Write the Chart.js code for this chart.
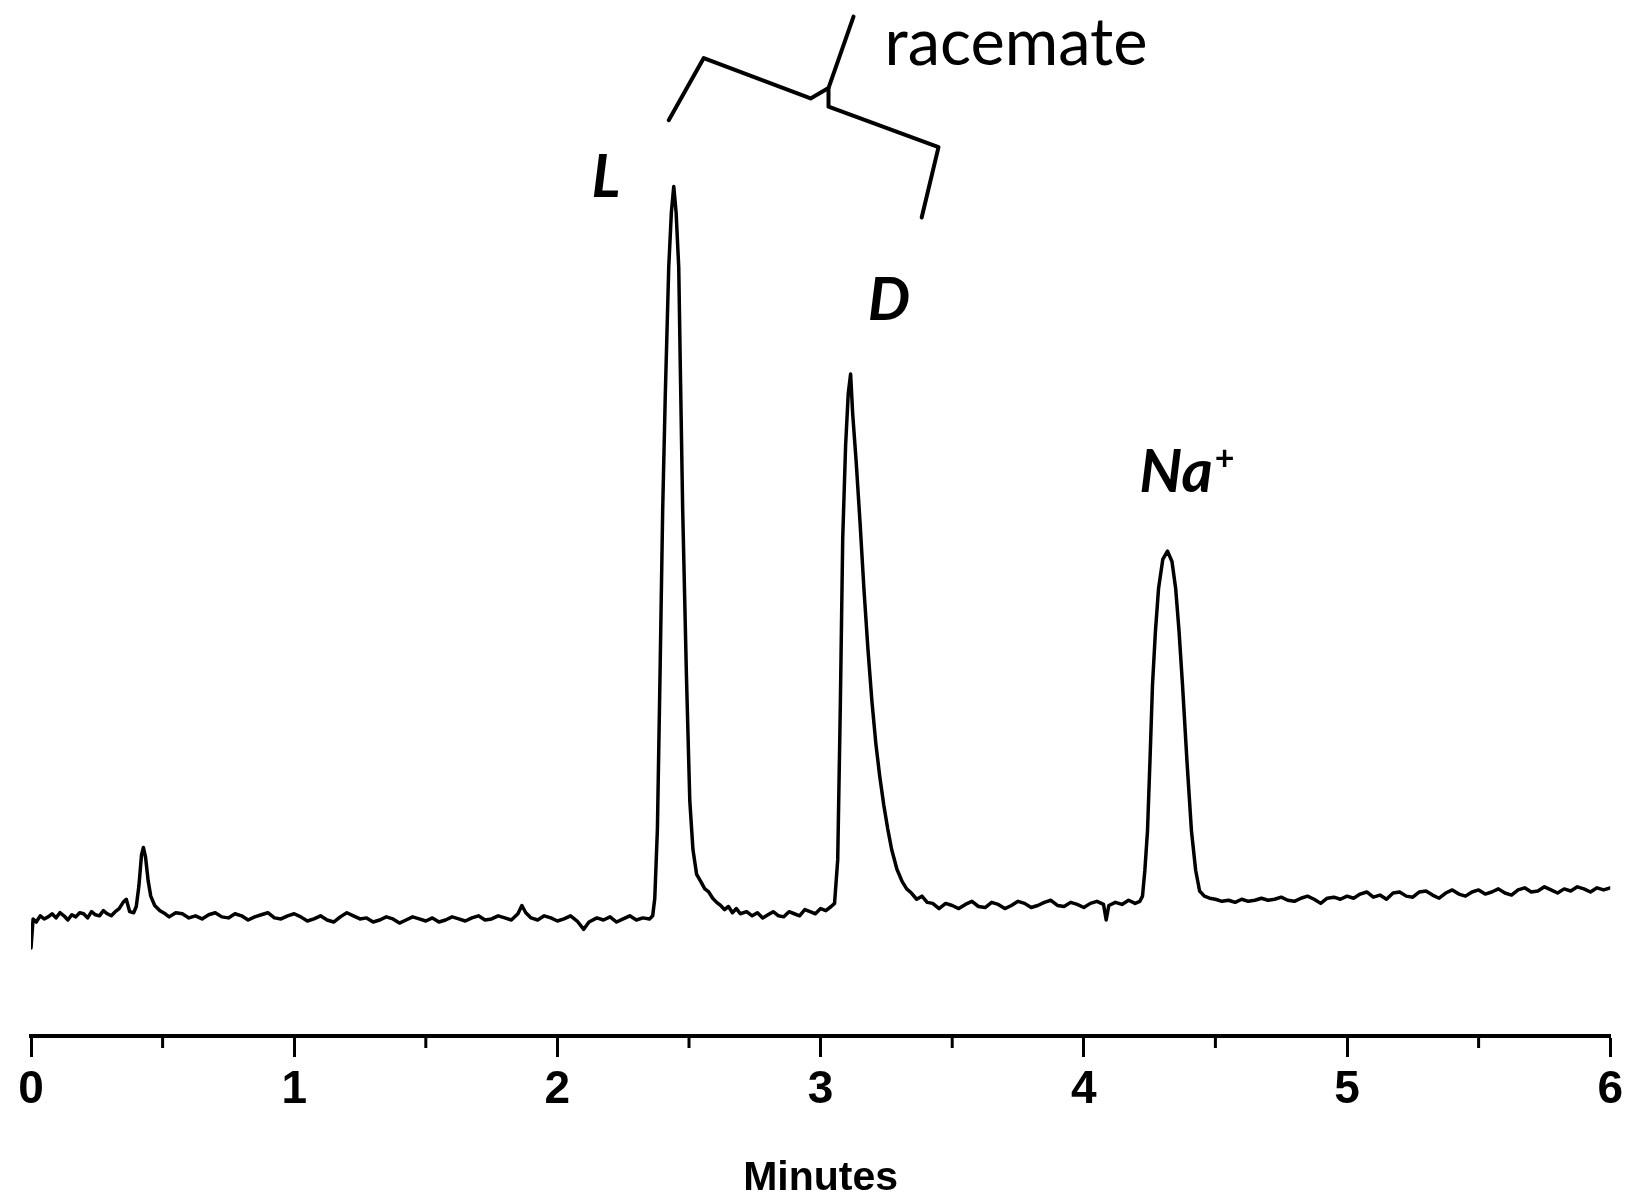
<!DOCTYPE html>
<html><head><meta charset="utf-8">
<script src="https://cdn.jsdelivr.net/npm/chart.js@4.4.1/dist/chart.umd.min.js"></script>
<style>html,body{margin:0;padding:0;background:#fff;}</style>
</head><body>
<canvas id="c" width="1629" height="1203"></canvas>
<script>
// ---- data (minutes, detector signal in arbitrary units) ----
const times = [
0.000,0.008,
0.020,0.035,0.050,0.065,0.080,0.095,0.110,0.125,0.140,0.155,0.170,0.185,0.200,0.215,0.230,0.245,0.260,0.275,0.290,0.305,0.320,0.335,
0.350,0.362,0.375,0.390,
0.400,0.410,0.420,0.427,0.435,0.445,0.455,0.470,0.490,0.510,
0.525,0.550,0.575,0.600,0.625,0.650,0.675,0.700,0.725,0.750,0.775,0.800,0.825,0.850,0.875,0.900,0.925,0.950,0.975,1.000,
1.025,1.050,1.075,1.100,1.125,1.150,1.175,1.200,1.225,1.250,1.275,1.300,1.325,1.350,1.375,1.400,1.425,1.450,1.475,1.500,
1.525,1.550,1.575,1.600,1.625,1.650,1.675,1.700,1.725,1.750,1.775,1.800,1.825,1.850,1.865,1.880,1.900,1.925,1.950,1.975,2.000,
2.025,2.050,2.075,2.100,2.120,2.150,2.175,2.200,2.225,2.250,2.275,2.300,2.325,2.350,2.362,
2.370,2.380,2.390,2.400,2.410,2.423,2.433,2.442,2.451,2.461,2.468,2.476,2.490,2.503,2.515,2.529,2.545,2.560,2.575,2.590,2.605,2.620,2.635,2.650,2.665,2.680,2.695,2.719,
2.740,2.760,2.780,2.800,2.820,2.840,2.860,2.880,2.900,2.920,2.940,2.960,2.980,3.000,3.020,3.040,3.053,
3.065,3.075,3.084,3.095,3.105,3.114,3.122,
3.135,3.150,3.165,3.180,3.195,3.210,3.225,3.240,3.255,3.270,3.290,3.310,3.327,3.345,3.365,3.385,3.405,3.426,
3.450,3.475,3.500,3.525,3.550,3.575,3.600,3.625,3.650,3.675,3.700,3.725,3.750,3.775,3.800,3.825,3.850,3.875,3.900,3.925,3.950,3.975,4.000,4.025,4.050,4.075,
4.085,4.095,4.120,4.145,4.170,4.195,4.213,
4.223,4.232,4.242,4.252,4.261,4.272,4.284,4.300,4.318,4.335,4.349,4.362,4.375,4.392,4.409,4.425,4.440,4.458,4.478,
4.500,4.525,4.550,4.575,4.600,4.625,4.650,4.675,4.700,4.725,4.750,4.775,4.800,4.825,4.850,4.875,4.900,4.925,4.950,4.975,
5.000,5.025,5.050,5.075,5.100,5.125,5.150,5.175,5.200,5.225,5.250,5.275,5.300,5.325,5.350,5.375,5.400,5.425,5.450,5.475,
5.500,5.525,5.550,5.575,5.600,5.625,5.650,5.675,5.700,5.725,5.750,5.775,5.800,5.825,5.850,5.875,5.900,5.925,5.950,5.975,6.000
];
const signal = [
8.5,11.3,
11.0,11.6,11.3,11.5,11.8,11.4,11.9,11.6,11.2,11.7,11.5,11.9,11.8,11.4,12.0,11.7,11.6,12.1,11.8,11.6,12.0,12.3,
12.9,13.2,12.0,11.9,
12.5,14.5,17.5,18.2,17.3,15.0,13.5,12.6,12.1,11.8,
11.5,11.9,11.8,11.4,11.6,11.3,11.7,11.9,11.5,11.4,11.8,11.6,11.2,11.5,11.7,11.9,11.4,11.3,11.6,11.8,
11.5,11.1,11.3,11.6,11.2,11.0,11.5,11.9,11.6,11.3,11.4,11.0,11.2,11.5,11.3,10.9,11.2,11.5,11.3,11.1,
11.4,11.0,11.2,11.5,11.3,11.1,11.4,11.6,11.2,11.3,11.6,11.4,11.2,11.8,12.6,11.9,11.4,11.2,11.6,11.4,11.1,
11.3,11.6,11.1,10.3,11.0,11.4,11.2,11.5,11.0,11.3,11.6,11.2,11.4,11.3,11.6,
13.3,20.0,35.0,50.8,62.0,74.2,79.5,82.0,79.5,74.2,63.0,50.8,35.0,22.7,18.0,15.6,14.9,14.2,13.9,13.3,12.9,12.6,12.2,12.5,11.9,12.3,11.8,12.0,
11.6,11.9,11.4,11.7,12.0,11.6,11.5,12.0,11.8,11.6,12.2,12.0,11.8,12.3,12.1,12.5,12.8,
17.0,32.0,48.0,57.0,62.0,63.9,60.0,
55.5,49.5,43.0,37.3,32.3,28.2,25.0,22.3,20.0,18.0,16.1,14.9,14.2,13.8,13.2,13.5,12.9,12.8,
12.3,12.8,12.6,12.3,12.7,13.0,12.5,12.4,12.9,12.7,12.3,12.6,13.0,12.8,12.4,12.6,12.9,13.1,12.6,12.5,12.9,12.7,12.4,12.8,13.0,12.7,
11.2,12.6,12.9,12.7,13.1,12.8,13.0,
13.5,16.0,19.8,27.0,33.9,39.0,43.2,46.0,46.8,45.8,43.2,39.0,33.9,26.5,19.8,16.0,14.0,13.5,13.3,
13.2,13.0,13.1,12.9,13.2,13.0,13.1,13.3,13.1,13.2,13.4,13.1,13.0,13.3,13.5,13.2,12.8,13.3,13.4,13.2,
13.5,13.3,13.7,13.9,13.4,13.6,13.2,13.8,13.9,13.5,13.4,13.9,14.0,13.6,13.3,13.8,14.1,13.7,13.5,13.9,
14.1,13.7,13.9,14.2,13.8,13.6,14.1,14.3,13.9,14.0,14.4,14.1,13.8,14.2,14.0,14.4,14.2,13.9,14.3,14.1,14.3
];
const majorTicks = [0, 1, 2, 3, 4, 5, 6];
const minorTicks = [0.5, 1.5, 2.5, 3.5, 4.5, 5.5];
const axisTitle = 'Minutes';
const peakNames = ['L', 'D', 'Na'];
const groupName = 'racemate';

// ---- annotation placement (data coordinates) ----
const peakNamePos = [[2.130, 81.0], [3.179, 69.1], [4.211, 52.5]];
const groupNamePos = [3.243, 93.7];
const braceLeft = [[2.423, 88.4], [2.556, 94.4], [2.962, 90.5], [3.030, 91.5], [3.125, 98.4]];
const braceRight = [[3.030, 91.5], [3.030, 89.7], [3.448, 85.8], [3.384, 79.0]];

const points = times.map((t, i) => ({x: t, y: signal[i]}));

const annotPlugin = {
  id: 'annot',
  afterDraw(chart) {
    const {ctx, scales: {x, y}} = chart;
    ctx.save();
    ctx.strokeStyle = '#000';
    ctx.fillStyle = '#000';
    // minor ticks
    ctx.lineWidth = 3;
    minorTicks.forEach(t => {
      const px = x.getPixelForValue(t);
      ctx.beginPath();
      ctx.moveTo(px, x.top);
      ctx.lineTo(px, x.top + 12);
      ctx.stroke();
    });
    // brace
    ctx.lineWidth = 4;
    ctx.lineJoin = 'round';
    ctx.lineCap = 'round';
    [braceLeft, braceRight].forEach(path => {
      ctx.beginPath();
      path.forEach(([t, v], i) => {
        const px = x.getPixelForValue(t), py = y.getPixelForValue(v);
        if (i === 0) ctx.moveTo(px, py); else ctx.lineTo(px, py);
      });
      ctx.stroke();
    });
    // labels
    ctx.textBaseline = 'alphabetic';
    ctx.textAlign = 'left';
    peakNames.forEach((name, i) => {
      const [t, v] = peakNamePos[i];
      const px = x.getPixelForValue(t), py = y.getPixelForValue(v);
      ctx.font = 'bold italic 60px Lato';
      ctx.fillText(name, px, py);
      if (name === 'Na') {
        const w = ctx.measureText(name).width;
        ctx.font = 'bold 34px Lato';
        ctx.fillText('+', px + w + 2, py - 22);
      }
    });
    ctx.font = '65px Lato';
    ctx.fillText(groupName, x.getPixelForValue(groupNamePos[0]), y.getPixelForValue(groupNamePos[1]));
    ctx.restore();
  }
};

new Chart(document.getElementById('c'), {
  type: 'line',
  data: {
    datasets: [{
      data: points,
      borderColor: '#000',
      borderWidth: 3.5,
      pointRadius: 0,
      tension: 0,
      borderJoinStyle: 'round',
      borderCapStyle: 'round',
      fill: false
    }]
  },
  options: {
    responsive: false,
    animation: false,
    events: [],
    layout: {padding: {left: 31, right: 18, top: 0, bottom: 0}},
    plugins: {legend: {display: false}, tooltip: {enabled: false}, title: {display: false}},
    scales: {
      x: {
        type: 'linear',
        min: 0, max: 6,
        afterFit(scale) { scale.height = 167; },
        afterBuildTicks(scale) { scale.ticks = majorTicks.map(v => ({value: v})); },
        border: {display: true, color: '#000', width: 4},
        grid: {display: true, drawOnChartArea: false, drawTicks: true, tickLength: 21, tickWidth: 3, tickColor: '#000'},
        ticks: {
          color: '#000', padding: 6, maxRotation: 0, autoSkip: false,
          font: {family: "'Liberation Sans Narrow', 'Liberation Sans', Arial", weight: 'bold', size: 46}
        },
        title: {
          display: true, text: axisTitle, color: '#000',
          font: {family: "'Liberation Sans', Arial", weight: 'bold', size: 41},
          padding: {top: 0, bottom: 0}
        }
      },
      y: {type: 'linear', min: 0, max: 100, display: false}
    }
  },
  plugins: [annotPlugin]
});
</script>
</body></html>
